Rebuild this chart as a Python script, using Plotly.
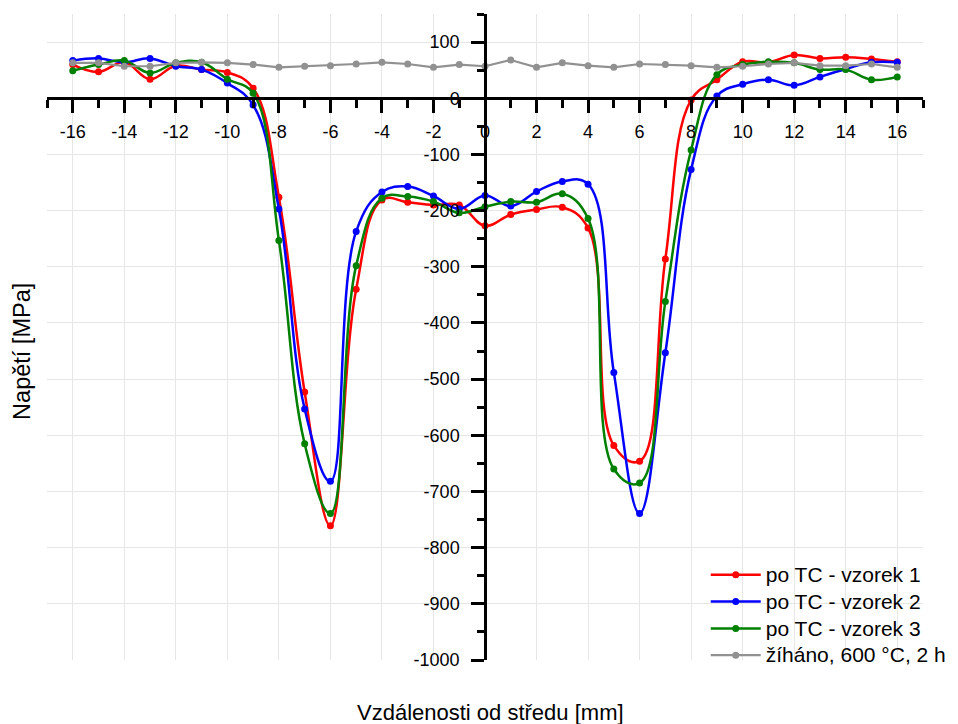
import plotly.graph_objects as go

# ---- data ----
x_mm = [-16, -15, -14, -13, -12, -11, -10, -9, -8, -7, -6, -5, -4, -3, -2, -1,
        0, 1, 2, 3, 4, 5, 6, 7, 8, 9, 10, 11, 12, 13, 14, 15, 16]

vzorek1 = [60, 47, 64, 34, 58, 51, 46, 18, -176, -523, -761, -340, -181, -185, -190, -190,
           -227, -207, -198, -194, -231, -618, -646, -286, -3, 33, 65, 64, 77, 71, 73, 70, 65]

vzorek2 = [67, 71, 64, 71, 57, 51, 27, -12, -197, -553, -682, -237, -167, -157, -174, -197,
           -173, -192, -166, -148, -153, -488, -739, -453, -127, 4, 25, 33, 23, 38, 52, 64, 64]

vzorek3 = [49, 60, 67, 45, 63, 64, 34, 9, -253, -615, -739, -298, -178, -175, -184, -204,
           -193, -184, -185, -170, -214, -660, -685, -362, -92, 42, 60, 65, 63, 51, 51, 33, 38]

zihano = [63, 63, 57, 57, 63, 64, 63, 60, 55, 57, 58, 61, 64, 61, 55, 60,
          57, 68, 55, 63, 58, 55, 61, 60, 58, 55, 57, 61, 63, 58, 58, 61, 55]

series_names = ["po TC - vzorek 1", "po TC - vzorek 2", "po TC - vzorek 3", "žíháno, 600 °C, 2 h"]

x_tick_vals = [-16, -14, -12, -10, -8, -6, -4, -2, 0, 2, 4, 6, 8, 10, 12, 14, 16]
x_tick_text = ["-16", "-14", "-12", "-10", "-8", "-6", "-4", "-2", "0",
               "2", "4", "6", "8", "10", "12", "14", "16"]
y_tick_vals = [100, 0, -100, -200, -300, -400, -500, -600, -700, -800, -900, -1000]
y_tick_text = ["100", "0", "-100", "-200", "-300", "-400", "-500", "-600",
               "-700", "-800", "-900", "-1000"]

x_title = "Vzdálenosti od středu [mm]"
y_title = "Napětí [MPa]"

FONT = "Arial, 'Liberation Sans', sans-serif"

fig = go.Figure()
styles = [
    dict(color="rgb(255,0,0)", shape="spline", width=2.5),
    dict(color="rgb(0,0,255)", shape="spline", width=2.5),
    dict(color="rgb(0,128,0)", shape="spline", width=2.5),
    dict(color="rgb(145,145,145)", shape="linear", width=2.2),
]
for name, ys, st in zip(series_names, [vzorek1, vzorek2, vzorek3, zihano], styles):
    fig.add_trace(go.Scatter(
        x=x_mm, y=ys,
        # legend text is drawn larger than the legend font so rows stay tight
        name='<span style="font-size:21px">' + name + "</span>",
        mode="lines+markers",
        line=dict(color=st["color"], width=st["width"], shape=st["shape"], smoothing=1.15),
        marker=dict(color=st["color"], size=7),
    ))

X_MIN, X_MAX = -17, 17
Y_MIN, Y_MAX = -1000, 150

# the page body has an 8px margin, so the figure is drawn 8px smaller and
# its margins 8px smaller to keep the plot area where the reference has it
fig.update_layout(
    width=950, height=716,
    margin=dict(l=39, r=33, t=6, b=64),
    paper_bgcolor="white", plot_bgcolor="white",
    font=dict(family=FONT, size=18, color="black"),
    showlegend=True,
    legend=dict(
        x=0.752, xanchor="left", y=0.069, yanchor="middle",
        bgcolor="rgba(0,0,0,0)", font=dict(family=FONT, size=18.3, color="black"),
        itemwidth=50, tracegroupgap=0,
    ),
    xaxis=dict(
        range=[X_MIN, X_MAX], domain=[0, 1],
        anchor="free", position=(0 - Y_MIN) / (Y_MAX - Y_MIN),
        tickmode="array", tickvals=x_tick_vals, ticktext=x_tick_text,
        ticks="outside", ticklen=13, tickwidth=2.5, tickcolor="black",
        showline=True, linecolor="black", linewidth=2.5,
        showgrid=True, gridcolor="#e6e6e6", gridwidth=1,
        zeroline=False,
        minor=dict(tickmode="linear", tick0=0, dtick=1, ticks="outside",
                   ticklen=8, tickwidth=2.5, tickcolor="black", showgrid=False),
        tickfont=dict(size=18, family=FONT, color="black"),
        ticklabelstandoff=3,
    ),
    yaxis=dict(
        range=[Y_MIN, Y_MAX], domain=[0, 1],
        anchor="free", position=(0 - X_MIN) / (X_MAX - X_MIN),
        tickmode="array", tickvals=y_tick_vals, ticktext=y_tick_text,
        ticks="outside", ticklen=13, tickwidth=2.5, tickcolor="black",
        showline=True, linecolor="black", linewidth=2.5,
        showgrid=True, gridcolor="#e6e6e6", gridwidth=1,
        zeroline=False,
        minor=dict(tickmode="linear", tick0=0, dtick=50, ticks="outside",
                   ticklen=7, tickwidth=2.5, tickcolor="black", showgrid=False),
        tickfont=dict(size=18, family=FONT, color="black"),
        ticklabelstandoff=8,
    ),
    annotations=[
        dict(text=x_title, xref="paper", yref="paper", x=0.506, y=-0.081,
             xanchor="center", yanchor="middle", showarrow=False,
             font=dict(family=FONT, size=22, color="black")),
        dict(text=y_title, xref="paper", yref="paper", x=-0.0285, y=0.477,
             xanchor="center", yanchor="middle", textangle=-90, showarrow=False,
             font=dict(family=FONT, size=23.5, color="black")),
    ],
)

fig.write_html("out.html")
